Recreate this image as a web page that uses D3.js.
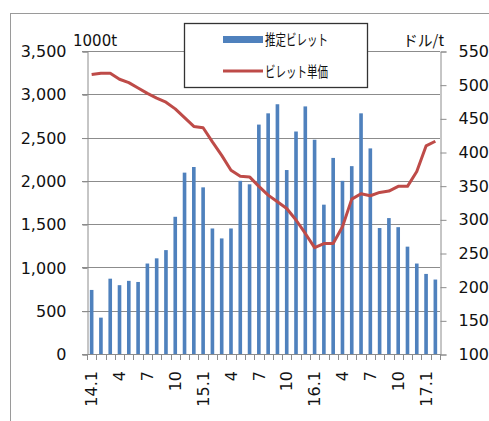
<!DOCTYPE html>
<html>
<head>
<meta charset="utf-8">
<script src="https://cdn.jsdelivr.net/npm/d3@7"></script>
<style>
  html, body { margin: 0; padding: 0; background: #fff; }
  svg { display: block; }
</style>
</head>
<body>
<svg id="chart" width="489" height="421"></svg>
<script>
// Monthly categories, Jan 2014 – Feb 2017
const months = [
  "14.1","14.2","14.3","14.4","14.5","14.6","14.7","14.8","14.9","14.10","14.11","14.12",
  "15.1","15.2","15.3","15.4","15.5","15.6","15.7","15.8","15.9","15.10","15.11","15.12",
  "16.1","16.2","16.3","16.4","16.5","16.6","16.7","16.8","16.9","16.10","16.11","16.12",
  "17.1","17.2"
];
// Tick labels shown every third month
const tickLabels = ["14.1","4","7","10","15.1","4","7","10","16.1","4","7","10","17.1"];

// Estimated billet volume (1000t)
const billetVolume = [
  740, 420, 870, 795, 845, 832, 1045, 1105, 1200, 1585, 2095, 2160,
  1925, 1450, 1335, 1450, 2000, 1960, 2650, 2780, 2885, 2125, 2570, 2860,
  2475, 1725, 2265, 2000, 2170, 2780, 2375, 1455, 1570, 1465, 1240, 1045,
  925, 860
];
// Billet unit price ($/t)
const billetPrice = [
  515, 517, 517, 508, 503, 495, 487, 480, 474, 464, 451, 438,
  436, 415, 395, 373, 364, 363, 349, 336, 326, 316, 299, 279,
  258, 264, 264, 289, 330, 338, 335, 340, 342, 349, 349, 371,
  409, 416
];

const leftTicks = [0, 500, 1000, 1500, 2000, 2500, 3000, 3500];
const rightTicks = [100, 150, 200, 250, 300, 350, 400, 450, 500, 550];
const seriesNames = ["推定ビレット", "ビレット単価"];

const svg = d3.select("#chart");
const plot = { left: 87, right: 440, top: 51, bottom: 354 };
const numFont = "'DejaVu Sans', sans-serif";
const jpFont = "'Noto Sans CJK JP', sans-serif";
const gridColor = "#8c8c8c";
const textColor = "#111";

// Outer chart frame
svg.append("rect")
  .attr("x", 10.5).attr("y", 13.5)
  .attr("width", 490).attr("height", 420)
  .attr("fill", "#fff").attr("stroke", "#9a9a9a").attr("stroke-width", 1);

const x = d3.scaleBand()
  .domain(months)
  .range([plot.left, plot.right])
  .paddingInner(0.61)
  .paddingOuter(0.305);

const yL = d3.scaleLinear().domain([0, 3500]).range([plot.bottom, plot.top]);
const yR = d3.scaleLinear().domain([100, 550]).range([plot.bottom, plot.top]);

// Horizontal gridlines (left axis values)
svg.append("g").selectAll("line")
  .data(leftTicks)
  .join("line")
  .attr("x1", plot.left - 5).attr("x2", plot.right)
  .attr("y1", d => Math.round(yL(d)) + 0.5)
  .attr("y2", d => Math.round(yL(d)) + 0.5)
  .attr("stroke", gridColor).attr("stroke-width", 1);

// Left axis
const leftAxis = svg.append("g")
  .attr("transform", `translate(${plot.left + 0.5},0.5)`)
  .call(d3.axisLeft(yL).tickValues(leftTicks).tickFormat(d3.format(","))
    .tickSize(5).tickPadding(16));
leftAxis.select(".domain").attr("stroke", gridColor);
leftAxis.selectAll(".tick line").attr("stroke", gridColor);
leftAxis.selectAll("text")
  .attr("font-family", numFont).attr("font-size", 16).attr("fill", textColor);

// Right axis
const rightAxis = svg.append("g")
  .attr("transform", `translate(${plot.right + 0.5},0.5)`)
  .call(d3.axisRight(yR).tickValues(rightTicks).tickSize(6).tickPadding(12));
rightAxis.select(".domain").attr("stroke", gridColor);
rightAxis.selectAll(".tick line").attr("stroke", gridColor);
rightAxis.selectAll("text")
  .attr("font-family", numFont).attr("font-size", 16).attr("fill", textColor);

// Bottom axis: ticks at category boundaries
const step = x.step();
const boundaries = months.map(m => x(m) + x.bandwidth() / 2 - step / 2).concat([plot.right]);
svg.append("g").selectAll("line")
  .data(boundaries)
  .join("line")
  .attr("x1", d => Math.round(d) + 0.5).attr("x2", d => Math.round(d) + 0.5)
  .attr("y1", plot.bottom).attr("y2", plot.bottom + 6)
  .attr("stroke", gridColor);

// Bars
svg.append("g").selectAll("rect")
  .data(billetVolume)
  .join("rect")
  .attr("x", (d, i) => x(months[i]))
  .attr("width", x.bandwidth())
  .attr("y", d => yL(d))
  .attr("height", d => yL(0) - yL(d))
  .attr("fill", "#4f81bd");

// Bottom baseline drawn over bars
svg.append("line")
  .attr("x1", plot.left).attr("x2", plot.right)
  .attr("y1", plot.bottom + 0.5).attr("y2", plot.bottom + 0.5)
  .attr("stroke", gridColor);

// Rotated month labels every third month
svg.append("g").selectAll("text")
  .data(tickLabels)
  .join("text")
  .attr("transform", (d, i) => {
    const cx = x(months[i * 3]) + x.bandwidth() / 2;
    return `translate(${cx},${plot.bottom + 17}) rotate(-90)`;
  })
  .attr("text-anchor", "end")
  .attr("dy", "0.36em")
  .attr("font-family", numFont).attr("font-size", 16).attr("fill", textColor)
  .text(d => d);

// Price line
const line = d3.line()
  .x((d, i) => x(months[i]) + x.bandwidth() / 2)
  .y(d => yR(d));
svg.append("path")
  .datum(billetPrice)
  .attr("d", line)
  .attr("fill", "none")
  .attr("stroke", "#be4b48")
  .attr("stroke-width", 3)
  .attr("stroke-linejoin", "round");

// Unit labels
svg.append("text")
  .attr("x", 73).attr("y", 46)
  .attr("font-family", numFont).attr("font-size", 15).attr("fill", textColor)
  .text("1000t");
svg.append("text")
  .attr("x", 403).attr("y", 46)
  .attr("font-family", jpFont).attr("font-size", 15).attr("fill", textColor)
  .attr("textLength", 41).attr("lengthAdjust", "spacingAndGlyphs")
  .text("ドル/t");

// Legend
const legend = svg.append("g");
legend.append("rect")
  .attr("x", 184.5).attr("y", 23.5).attr("width", 183).attr("height", 64)
  .attr("fill", "#fff").attr("stroke", "#333").attr("stroke-width", 1.3);
legend.append("rect")
  .attr("x", 223).attr("y", 36).attr("width", 40).attr("height", 7)
  .attr("fill", "#4f81bd");
legend.append("line")
  .attr("x1", 223).attr("x2", 263).attr("y1", 71).attr("y2", 71)
  .attr("stroke", "#be4b48").attr("stroke-width", 3);
legend.selectAll("text.item")
  .data(seriesNames)
  .join("text")
  .attr("class", "item")
  .attr("x", 265)
  .attr("y", (d, i) => i === 0 ? 40 : 72)
  .attr("dy", "0.35em")
  .attr("font-family", jpFont).attr("font-size", 15).attr("fill", textColor)
  .attr("textLength", 63).attr("lengthAdjust", "spacingAndGlyphs")
  .text(d => d);
</script>
</body>
</html>
